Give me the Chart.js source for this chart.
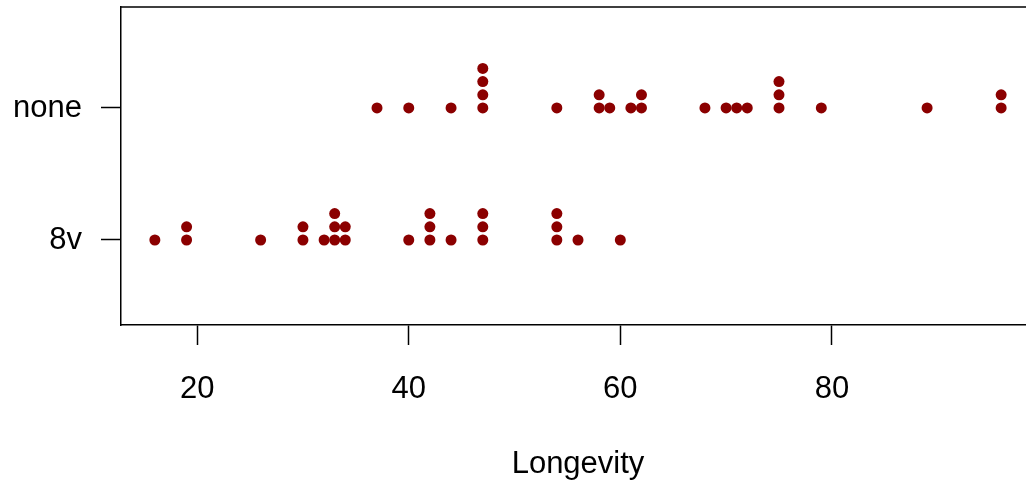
<!DOCTYPE html>
<html>
<head>
<meta charset="utf-8">
<script src="https://cdn.jsdelivr.net/npm/chart.js@4"></script>
<style>
  html, body { margin: 0; padding: 0; background: #fff; overflow: hidden; }
  /* the R plot region runs a little past the right edge of the picture */
  #wrap { width: 1026px; height: 480px; overflow: hidden; }
</style>
</head>
<body>
<div id="wrap"><canvas id="strip" width="1045" height="480"></canvas></div>
<script>
// groups from bottom to top
const groups = ["8v", "none"];

// longevity values
const longevity8v = [
  16, 19, 19, 26, 30, 30, 32, 33, 33, 33, 34, 34, 40, 42, 42, 42, 44,
  47, 47, 47, 54, 54, 54, 56, 60,
];
const longevityNone = [
  37, 40, 44, 47, 47, 47, 47, 54, 58, 58, 59, 61, 62, 62, 68, 70, 71,
  72, 75, 75, 75, 79, 89, 96, 96,
];

const xTicks = [20, 40, 60, 80];

// stripchart(method = "stack"): repeated values pile up
const stackStep = 0.1;
const stack = (values, level) => {
  const seen = {};
  return values.map((v) => {
    const k = seen[v] || 0;
    seen[v] = k + 1;
    return { x: v, y: level + k * stackStep };
  });
};

const points = [
  ...stack(longevity8v, 1),
  ...stack(longevityNone, 2),
];

const fontFamily = "'Liberation Sans', Arial, sans-serif";

// top and right edges of the box
const box = {
  id: "box",
  afterDraw(chart) {
    const { ctx, chartArea } = chart;
    ctx.save();
    ctx.strokeStyle = "#000";
    ctx.lineWidth = 1.5;
    ctx.beginPath();
    ctx.moveTo(chartArea.left, chartArea.top);
    ctx.lineTo(chartArea.right, chartArea.top);
    ctx.lineTo(chartArea.right, chartArea.bottom);
    ctx.stroke();
    ctx.restore();
  },
};

new Chart(document.getElementById("strip"), {
  type: "scatter",
  data: {
    datasets: [
      {
        data: points,
        pointRadius: 5.5,
        pointHoverRadius: 5.5,
        pointBackgroundColor: "#8B0000",
        pointBorderWidth: 0,
        showLine: false,
      },
    ],
  },
  plugins: [box],
  options: {
    responsive: false,
    animation: false,
    layout: { padding: { top: 7, left: 0, right: 10, bottom: 0 } },
    plugins: {
      legend: { display: false },
      tooltip: { enabled: false },
    },
    scales: {
      x: {
        type: "linear",
        min: 12.8,
        max: 99.2,
        afterBuildTicks: (axis) => {
          axis.ticks = xTicks.map((v) => ({ value: v }));
        },
        afterFit: (axis) => {
          axis.height = 155;
          axis.paddingLeft = 0;
          axis.paddingRight = 0;
        },
        grid: {
          drawOnChartArea: false,
          drawTicks: true,
          tickLength: 20,
          tickWidth: 1.5,
          color: "#000",
        },
        border: { display: true, color: "#000", width: 1.5 },
        ticks: {
          color: "#000",
          padding: 26,
          maxRotation: 0,
          font: { family: fontFamily, size: 31 },
        },
        title: {
          display: true,
          text: "Longevity",
          color: "#000",
          padding: { top: 0, bottom: -3 },
          font: { family: fontFamily, size: 31 },
        },
      },
      y: {
        type: "linear",
        min: 0.356,
        max: 2.765,
        afterBuildTicks: (axis) => {
          axis.ticks = groups.map((g, i) => ({ value: i + 1 }));
        },
        afterFit: (axis) => {
          axis.width = 121;
          axis.paddingTop = 0;
          axis.paddingBottom = 0;
        },
        grid: {
          drawOnChartArea: false,
          drawTicks: true,
          tickLength: 20,
          tickWidth: 1.5,
          color: "#000",
        },
        border: { display: true, color: "#000", width: 1.5 },
        ticks: {
          color: "#000",
          padding: 19,
          callback: (v) => groups[Math.round(v) - 1] || "",
          font: { family: fontFamily, size: 31 },
        },
      },
    },
  },
});
</script>
</body>
</html>
